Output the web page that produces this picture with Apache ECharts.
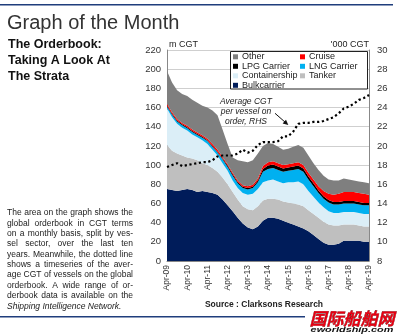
<!DOCTYPE html>
<html>
<head>
<meta charset="utf-8">
<script src="https://cdn.jsdelivr.net/npm/echarts@6/dist/echarts.min.js"></script>
<style>
html,body{margin:0;padding:0;background:#fff;}
#chart{width:400px;height:336px;}
</style>
</head>
<body>
<div id="chart"></div>
<script>
// Quarterly points, Apr-09 .. Apr-19
const categories = ['Apr-09','Jul-09','Oct-09','Jan-10','Apr-10','Jul-10','Oct-10','Jan-11','Apr-11','Jul-11','Oct-11','Jan-12','Apr-12','Jul-12','Oct-12','Jan-13','Apr-13','Jul-13','Oct-13','Jan-14','Apr-14','Jul-14','Oct-14','Jan-15','Apr-15','Jul-15','Oct-15','Jan-16','Apr-16','Jul-16','Oct-16','Jan-17','Apr-17','Jul-17','Oct-17','Jan-18','Apr-18','Jul-18','Oct-18','Jan-19','Apr-19'];

// m CGT by sector (stacked)
const bulkcarrier = [75,74,73,74,75,74,72,73,72,71,69,64,58,52,45,39,35,33,36,42,45,45,44,42,40,38,36,34,31,27,23,19,17,17,18,21,21,21,21,20,20];
const tanker = [46,41,39,36,33,33,33,29,28,26,24,23,22,20,19,18,19,20,21,21,20,20,20,20,21,22,23,23,22,22,22,22,21,20,19,17,17,17,16,16,16];
const containership = [38,35,31,29,28,25,24,24,22,19,17,15,14,12,12,14,15,17,18,19,19,20,19,19,21,22,24,23,20,18,16,15,14,13,13,13,13,13,13,13,13];
const lngCarrier = [2,2.5,2.5,2.5,2.5,2.5,2.5,2.5,3,3,3,4,4,5,5,5,5.5,6,7,11,12,12,12,12,12,13,13,13,12,11,10,9,9,9,9,9,9,9,9,9,9];
const lpgCarrier = [1,1,1,1,1,1,1,1,1,1,1,1,1.5,1.5,1.5,1.5,1.5,1.5,2,3,3.5,3.5,3.5,3.5,3.5,3.5,3.5,3.5,3,3,2.5,2.5,2.5,2.5,2.5,2.5,2.5,2.5,2.5,2.5,2.5];
const cruise = [2,1.5,1.5,1.5,1.5,1.5,1.5,1.5,1.5,2,2,1.5,1.5,1.5,1.5,1.5,2,2,2,3,3.5,3.5,3.5,3.5,3.5,3.5,3.5,3.5,4,4,4.5,5.5,6.5,7.5,8.5,9.5,9.5,9.5,9.5,9.5,8.5];
const other = [34,31,30,30,31,31,31,31,32.5,35,36,28.5,21,16,21,25,25,25.5,26,21,20,18,17,16,16,17,18,18,18,17,17,16,15,15,14,14,13,12,12,12,12];

// '000 CGT average per vessel on order (RHS)
const avgCgt = [17.8,18.0,18.2,17.9,18.0,18.1,18.2,18.3,18.3,18.5,18.9,19.0,19.0,19.0,19.2,19.6,19.3,19.5,20.1,20.4,20.4,20.4,20.5,21.0,21.0,21.5,22.3,22.4,22.4,22.5,22.5,22.6,22.8,23.0,23.4,23.9,24.1,24.4,24.8,25.0,25.3];

const leftTicks = {min:0, max:220, interval:20};
const rightTicks = {min:8, max:30, interval:2};

const paragraph = [
  'The area on the graph shows the',
  'global orderbook in CGT terms',
  'on a monthly basis, split by ves-',
  'sel sector, over the last ten',
  'years. Meanwhile, the dotted line',
  'shows a timeseries of the aver-',
  'age CGT of vessels on the global',
  'orderbook. A wide range of or-',
  'derbook data is available on the'
];
const paragraphLast = 'Shipping Intelligence Network.';

const FF = '"Liberation Sans", Arial, Helvetica, sans-serif';
const colors = {
  other:'#7f7f7f', cruise:'#ff0000', lpg:'#000000', lng:'#00b0f0',
  container:'#dbeef7', tanker:'#bfbfbf', bulk:'#001c5a'
};

function area(name, data, color){
  return {name, type:'line', stack:'ob', data, symbol:'none', showSymbol:false,
    lineStyle:{width:0}, areaStyle:{color, opacity:1}, itemStyle:{color},
    emphasis:{disabled:true}, z:2, animation:false};
}

// justified paragraph words
const mctx = document.createElement('canvas').getContext('2d');
function tw(t, font){ mctx.font = font; return mctx.measureText(t).width; }
const pFont = '8.5px ' + FF;
const pX0 = 7, pW = 126, pY0 = 213, pLH = 10.35;
const graphics = [];
paragraph.forEach((line, i) => {
  const words = line.split(' ');
  const widths = words.map(w => tw(w, pFont));
  const sum = widths.reduce((a,b)=>a+b,0);
  const gap = (pW - sum) / (words.length - 1);
  let x = pX0;
  words.forEach((w, j) => {
    graphics.push({type:'text', x:x, y:pY0 + i*pLH, silent:true,
      style:{text:w, font:pFont, fill:'#222', textAlign:'left', textVerticalAlign:'middle', align:'left', verticalAlign:'middle'}});
    x += widths[j] + gap;
  });
});
graphics.push({type:'text', x:pX0, y:pY0 + paragraph.length*pLH, silent:true,
  style:{text:paragraphLast, font:'italic 8.5px ' + FF, fill:'#222', textAlign:'left', textVerticalAlign:'middle', align:'left', verticalAlign:'middle'}});

function txt(text, x, y, font, fill, align, extra){
  return Object.assign({type:'text', x, y, silent:true,
    style:{text, font, fill:fill||'#222', textAlign:align||'left', align:align||'left', textVerticalAlign:'middle', verticalAlign:'middle'}}, extra||{});
}

graphics.push(
  {type:'rect', shape:{x:0, y:4, width:393, height:1.6}, style:{fill:'#1f3d7c'}, silent:true},
  {type:'rect', shape:{x:0, y:316, width:305, height:1.6}, style:{fill:'#1f3d7c'}, silent:true},
  txt('Graph of the Month', 7, 23, '20px ' + FF, '#333'),
  txt('The Orderbook:', 8, 45, 'bold 12.5px ' + FF, '#111'),
  txt('Taking A Look At', 8, 61, 'bold 12.5px ' + FF, '#111'),
  txt('The Strata', 8, 77, 'bold 12.5px ' + FF, '#111'),
  txt('m CGT', 169, 45, '9px ' + FF, '#222'),
  txt("'000 CGT", 369, 45, '9px ' + FF, '#222', 'right'),
  txt('Source : Clarksons Research', 264, 305, 'bold 8.5px ' + FF, '#222', 'center'),
  // legend box
  {type:'rect', z:10, shape:{x:230.5, y:51.5, width:137, height:37.5}, style:{fill:'#fff', stroke:'#222', lineWidth:1}, silent:true},
  // annotation
  txt('Average CGT', 246, 102, 'italic 8.5px ' + FF, '#222', 'center', {z:10}),
  txt('per vessel on', 246, 112, 'italic 8.5px ' + FF, '#222', 'center', {z:10}),
  txt('order, RHS', 246, 122, 'italic 8.5px ' + FF, '#222', 'center', {z:10}),
  {type:'line', z:10, shape:{x1:275, y1:113.3, x2:285.5, y2:122.5}, style:{stroke:'#111', lineWidth:1}, silent:true},
  {type:'polygon', z:10, shape:{points:[[288.3,125],[282.6,123.4],[286.0,119.8]]}, style:{fill:'#111'}, silent:true},
  // watermark logo
  {type:'text', x:352, y:319, silent:true,
    style:{text:'国际船舶网', font:'bold italic 17px "Noto Sans CJK SC", sans-serif', fill:'#e60012', stroke:'#3a0000', lineWidth:0.4, textAlign:'center', align:'center', textVerticalAlign:'middle', verticalAlign:'middle'}},
  {type:'text', x:352, y:329.5, scaleX:1.45, silent:true,
    style:{text:'eworldship.com', font:'bold italic 7.5px ' + FF, fill:'#111', textAlign:'center', align:'center', textVerticalAlign:'middle', verticalAlign:'middle'}}
);

const chart = echarts.init(document.getElementById('chart'), null, {renderer:'canvas'});
chart.setOption({
  animation:false,
  backgroundColor:'#fff',
  textStyle:{fontFamily:FF},
  grid:{left:167, right:31, top:50, bottom:75, containLabel:false},
  legend:[
    {left:233, top:52.3, padding:0, orient:'vertical', z:20, itemWidth:5, itemHeight:5, itemGap:0.5, icon:'rect', selectedMode:false,
     data:['Other','LPG Carrier','Containership','Bulkcarrier'],
     textStyle:{fontSize:9, color:'#222', fontFamily:FF, lineHeight:8.7, padding:[0,0,0,-1]}},
    {left:300, top:52.3, padding:0, orient:'vertical', z:20, itemWidth:5, itemHeight:5, itemGap:0.5, icon:'rect', selectedMode:false,
     data:['Cruise','LNG Carrier','Tanker'],
     textStyle:{fontSize:9, color:'#222', fontFamily:FF, lineHeight:8.7, padding:[0,0,0,-1]}}
  ],
  xAxis:{type:'category', data:categories, boundaryGap:false,
    axisLine:{show:true, lineStyle:{color:'#888'}},
    axisTick:{show:false},
    axisLabel:{interval:3, rotate:90, fontSize:8.5, color:'#333', margin:4, fontFamily:FF},
    splitLine:{show:false}},
  yAxis:[
    {type:'value', min:leftTicks.min, max:leftTicks.max, interval:leftTicks.interval, position:'left',
     axisLine:{show:true, lineStyle:{color:'#888'}}, axisTick:{show:false},
     axisLabel:{fontSize:9.5, color:'#333', margin:6, fontFamily:FF},
     splitLine:{show:true, lineStyle:{color:'#cfcfcf', width:1}}},
    {type:'value', min:rightTicks.min, max:rightTicks.max, interval:rightTicks.interval, position:'right',
     axisLine:{show:true, lineStyle:{color:'#888'}}, axisTick:{show:false},
     axisLabel:{fontSize:9.5, color:'#333', margin:8, fontFamily:FF},
     splitLine:{show:false}}
  ],
  series:[
    area('Bulkcarrier', bulkcarrier, colors.bulk),
    area('Tanker', tanker, colors.tanker),
    area('Containership', containership, colors.container),
    area('LNG Carrier', lngCarrier, colors.lng),
    area('LPG Carrier', lpgCarrier, colors.lpg),
    area('Cruise', cruise, colors.cruise),
    area('Other', other, colors.other),
    {name:'Average CGT', type:'line', yAxisIndex:1, data:avgCgt, symbol:'none', showSymbol:false,
     lineStyle:{color:'#000', width:2.2, type:[2.2,2.6], cap:'butt'}, z:5, emphasis:{disabled:true}}
  ],
  graphic:{elements:graphics}
});
</script>
</body>
</html>
